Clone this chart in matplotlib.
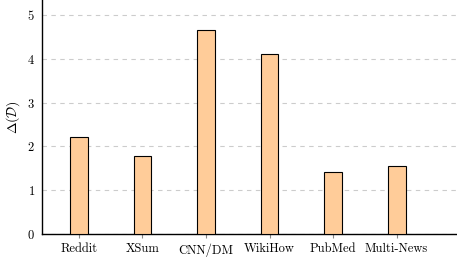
import matplotlib
matplotlib.use("Agg")
import matplotlib.pyplot as plt
import numpy as np

datasets = ["Reddit", "XSum", "CNN/DM", "WikiHow", "PubMed", "Multi-News"]
delta_d = [2.21, 1.77, 4.66, 4.11, 1.42, 1.56]

plt.rcParams["font.family"] = "serif"
plt.rcParams["font.serif"] = ["cmr10"]
plt.rcParams["mathtext.fontset"] = "cm"
plt.rcParams["axes.formatter.use_mathtext"] = True

fig = plt.figure(figsize=(4.57, 2.57), dpi=100)
ax = fig.add_axes([42 / 457, 23 / 257, 415 / 457, 234 / 257])

x = np.arange(len(datasets))
ax.bar(x, delta_d, width=0.28, color="#ffcc99", edgecolor="black", linewidth=0.8, zorder=3)

ax.set_xticks(x)
ax.set_xticklabels(datasets, fontsize=9)
ax.set_xlim(-0.58, 5.95)
ax.set_ylim(0, 5.34)
ax.set_yticks([0, 1, 2, 3, 4, 5])
ax.tick_params(axis="y", labelsize=9, length=0, pad=5)
ax.tick_params(axis="x", length=3, color="#888888")
ax.set_ylabel(r"$\Delta(\mathcal{D})$", fontsize=10)

ax.yaxis.grid(True, linestyle=(0, (4, 4)), color="#cccccc", linewidth=0.8, zorder=0)
ax.spines["top"].set_visible(False)
ax.spines["right"].set_visible(False)
ax.spines["left"].set_linewidth(1.0)
ax.spines["bottom"].set_linewidth(1.0)

fig.savefig("out.png", dpi=100)
